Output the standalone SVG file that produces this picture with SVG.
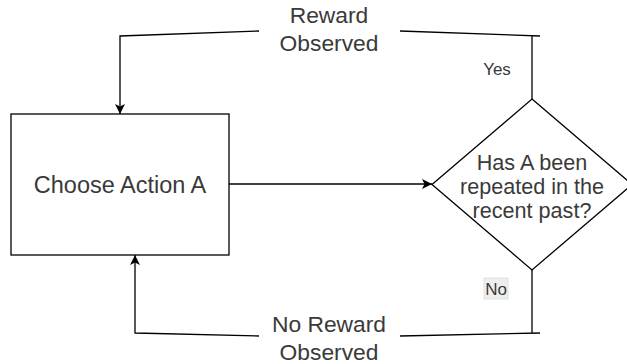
<svg xmlns="http://www.w3.org/2000/svg" width="627" height="364" viewBox="0 0 627 364">
<style>
.ln{fill:none;stroke:#000;stroke-width:1.3}
.sh{fill:#fff;stroke:#000;stroke-width:1.3}
.t{font-family:"Liberation Sans",Arial,sans-serif;fill:#3a3a3a;text-anchor:middle}
.big{font-size:22.8px}
.act{font-size:23.5px}
.mid{font-size:21.6px}
.sm{font-size:17px}
</style>
<defs>
<marker id="ah" viewBox="0 0 10 10" refX="10" refY="5" markerWidth="10" markerHeight="10" markerUnits="userSpaceOnUse" orient="auto">
<path d="M0,0 L10,5 L0,10 L2.5,5 Z" fill="#000"/>
</marker>
</defs>
<rect width="627" height="364" fill="#fff"/>
<g id="connectors">
<path class="ln" d="M229,184 L432,184" marker-end="url(#ah)"/>
<path class="ln" d="M532,99 L532,36"/>
<path class="ln" d="M540,36 L400,31"/>
<path class="ln" d="M259,31 L120,36 L120,114" marker-end="url(#ah)"/>
<path class="ln" d="M532,270 L532,333"/>
<path class="ln" d="M540,333 L400,336"/>
<path class="ln" d="M259,336 L135,333 L135,255" marker-end="url(#ah)"/>
</g>
<g id="label-reward">
<text class="t big" x="329" y="23">Reward</text>
<text class="t big" x="329" y="51">Observed</text>
</g>
<g id="label-noreward">
<text class="t big" x="329" y="332">No Reward</text>
<text class="t big" x="329" y="360">Observed</text>
</g>
<g id="label-yes">
<text class="t sm" x="497" y="75">Yes</text>
</g>
<g id="label-no">
<rect x="484" y="278" width="24" height="21" fill="#eee" stroke="#ddd" stroke-width="0.8"/>
<text class="t sm" x="496" y="295">No</text>
</g>
<g id="choose">
<rect class="sh" x="11" y="114" width="218" height="141"/>
<text class="t act" x="120" y="193">Choose Action A</text>
</g>
<g id="decision">
<path class="sh" d="M532,99 L632,184.5 L532,270 L432,184.5 Z"/>
<text class="t mid" x="532" y="170">Has A been</text>
<text class="t mid" x="532" y="194">repeated in the</text>
<text class="t mid" x="532" y="218">recent past?</text>
</g>
</svg>
